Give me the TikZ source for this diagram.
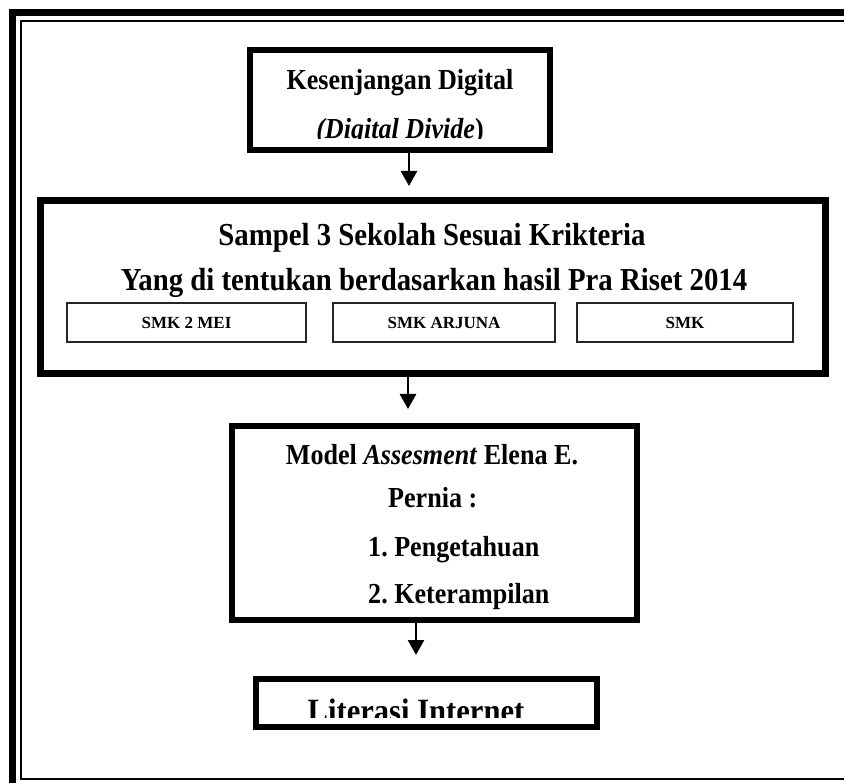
\documentclass[tikz,border=0pt]{standalone}
\usepackage{fontspec}
\setmainfont{Liberation Serif}
\newfontfamily\condserif{Liberation Serif}[FakeStretch=0.9]
\frenchspacing
\usetikzlibrary{positioning,calc}
\usetikzlibrary{arrows.meta}
\tikzset{
	box/.style={draw=black,line width=6pt,inner sep=0pt},
	school/.style={draw=black!85,line width=2pt,inner sep=0pt,minimum height=39pt,
		font=\fontsize{17}{20}\selectfont\bfseries},
	ttl/.style={inner sep=0pt,anchor=base,font=\condserif\fontsize{29}{34}\selectfont\bfseries},
	bigttl/.style={ttl,font=\condserif\fontsize{32}{38}\selectfont\bfseries},
	arr/.style={draw=black,line width=2.5pt,-{Triangle[width=16pt,length=15pt]}},
}

\begin{document}
\begin{tikzpicture}[x=1pt,y=-1pt]
	\useasboundingbox (0,0) rectangle (844,783);
	% page frame
	\draw[line width=7pt] (12.5,12.5) rectangle (900,850);
	\draw[line width=2.5pt] (21,21) rectangle (880,779);
	% boxes
	\node[box,minimum width=300pt,minimum height=100pt] (kes) at (400,100) {};
	\node[box,minimum width=785pt,minimum height=173pt,line width=7pt] (smp) at (432.5,287.5) {};
	\node[box,minimum width=405pt,minimum height=194pt] (mod) at (434.5,523) {};
	\node[box,minimum width=341pt,minimum height=48pt] (lit) at (426.5,703) {};
	% box texts
	\node[ttl] (kes1) at (400,90) {Kesenjangan Digital};
	\begin{scope}
		\clip (250,50) rectangle (550,139);
		\node[ttl] (kes2) at (400,139) {\itshape (Digital Divide\upshape)};
	\end{scope}
	\node[bigttl] (smp1) at (432,246) {Sampel 3 Sekolah Sesuai Krikteria};
	\node[bigttl] (smp2) at (434,291) {Yang di tentukan berdasarkan hasil Pra Riset 2014};
	\node[school,minimum width=239pt] (s1) at (186.5,322.5) {SMK 2 MEI};
	\node[school,minimum width=222pt] (s2) at (444,322.5) {SMK ARJUNA};
	\node[school,minimum width=216pt] (s3) at (685,322.5) {SMK};
	\node[ttl] (mod1) at (432,465) {Model \textit{Assesment} Elena E.};
	\node[ttl,anchor=base west] (mod2) at (388,508) {Pernia :};
	\node[ttl,anchor=base west] (mod3) at (368,557) {1. Pengetahuan};
	\node[ttl,anchor=base west] (mod4) at (368,603) {2. Keterampilan};
	\begin{scope}
		\clip (256,679) rectangle (597,717);
		\node[ttl,font=\condserif\fontsize{34}{40}\selectfont\bfseries] (lit1) at (416,722) {Literasi Internet};
	\end{scope}
	% arrows
	\coordinate (a1) at (409,186);
	\coordinate (a2) at (408,409);
	\coordinate (a3) at (416,655);
	\draw[arr] (a1 |- kes.south) -- (a1);
	\draw[arr] (a2 |- smp.south) -- (a2);
	\draw[arr] (a3 |- mod.south) -- (a3);
\end{tikzpicture}
\end{document}
